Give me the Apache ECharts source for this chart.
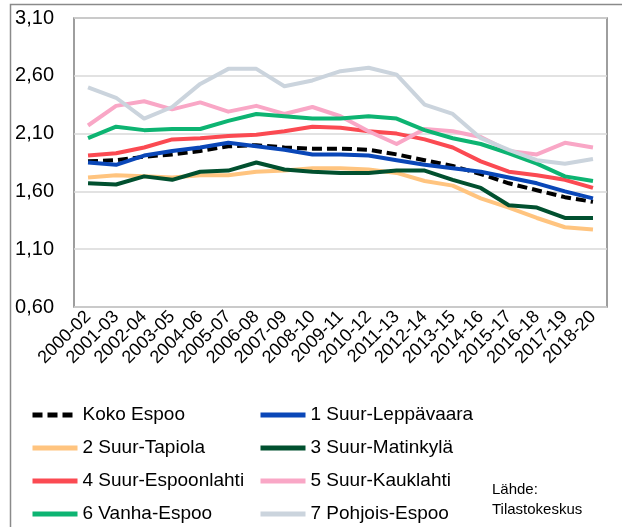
<!DOCTYPE html>
<html>
<head>
<meta charset="utf-8">
<script src="https://cdn.jsdelivr.net/npm/echarts@6/dist/echarts.min.js"></script>
<style>
  html, body { margin: 0; padding: 0; background: #fff; }
  #chart { width: 622px; height: 527px; }
</style>
</head>
<body>
<div id="chart"></div>
<script>
// Kausien luokat (3 vuoden jaksot)
const categories = ['2000-02','2001-03','2002-04','2003-05','2004-06','2005-07','2006-08','2007-09','2008-10','2009-11',
    '2010-12','2011-13','2012-14','2013-15','2014-16','2015-17','2016-18','2017-19','2018-20'];

const kokoEspoo      = [1.86,1.87,1.90,1.92,1.95,1.99,2.00,1.98,1.97,1.97,1.96,1.92,1.87,1.82,1.75,1.67,1.61,1.55,1.51];
const suurLeppavaara = [1.85,1.83,1.91,1.95,1.98,2.02,1.99,1.96,1.92,1.92,1.91,1.87,1.83,1.80,1.77,1.72,1.67,1.60,1.54];
const suurTapiola    = [1.72,1.74,1.73,1.72,1.74,1.74,1.77,1.78,1.80,1.80,1.79,1.76,1.69,1.65,1.54,1.46,1.37,1.29,1.27];
const suurMatinkyla  = [1.67,1.66,1.73,1.70,1.77,1.78,1.85,1.79,1.77,1.76,1.76,1.78,1.78,1.70,1.63,1.48,1.46,1.37,1.37];
const suurEspoonlahti= [1.91,1.93,1.98,2.05,2.06,2.08,2.09,2.12,2.16,2.15,2.12,2.10,2.05,1.98,1.86,1.77,1.74,1.70,1.63];
const suurKauklahti  = [2.17,2.34,2.38,2.31,2.37,2.29,2.34,2.27,2.33,2.25,2.12,2.01,2.14,2.12,2.07,1.95,1.92,2.02,1.98];
const vanhaEspoo     = [2.06,2.16,2.13,2.14,2.14,2.21,2.27,2.25,2.23,2.23,2.25,2.23,2.13,2.06,2.01,1.93,1.84,1.73,1.69];
const pohjoisEspoo   = [2.50,2.41,2.23,2.33,2.53,2.66,2.66,2.51,2.56,2.64,2.67,2.61,2.35,2.27,2.06,1.96,1.87,1.84,1.88];

const yMin = 0.6, yMax = 3.1, yStep = 0.5;

const FONT = '"Liberation Sans", Arial, sans-serif';

const seriesDefs = [
    { name: 'Koko Espoo',          data: kokoEspoo,       color: '#000000', dashed: true },
    { name: '1 Suur-Leppävaara',   data: suurLeppavaara,  color: '#0a47b8' },
    { name: '2 Suur-Tapiola',      data: suurTapiola,     color: '#ffc47f' },
    { name: '3 Suur-Matinkylä',    data: suurMatinkyla,   color: '#01502f' },
    { name: '4 Suur-Espoonlahti',  data: suurEspoonlahti, color: '#fb4a52' },
    { name: '5 Suur-Kauklahti',    data: suurKauklahti,   color: '#f9a7c6' },
    { name: '6 Vanha-Espoo',       data: vanhaEspoo,      color: '#0db472' },
    { name: '7 Pohjois-Espoo',     data: pohjoisEspoo,    color: '#cbd4dd' }
];

const chart = echarts.init(document.getElementById('chart'), null, { renderer: 'canvas' });

// legendan symbolit piiloon, vain viiva näkyy
const legendBase = {
    orient: 'vertical',
    top: 404,
    height: 123,
    padding: 0,
    itemWidth: 45,
    itemHeight: 14,
    itemGap: 11,
    itemStyle: { opacity: 0 },
    lineStyle: { width: 5 },
    textStyle: { fontFamily: FONT, fontSize: 19, lineHeight: 22, color: '#000' }
};

chart.setOption({
    backgroundColor: '#fff',
    animation: false,
    grid: { left: 74, right: 15, top: 18, bottom: 220, show: true, borderColor: '#7f7f7f', borderWidth: 1.5 },
    legend: [
        Object.assign({}, legendBase, { left: 30, data: ['Koko Espoo', '2 Suur-Tapiola', '4 Suur-Espoonlahti', '6 Vanha-Espoo'] }),
        Object.assign({}, legendBase, { left: 258, data: ['1 Suur-Leppävaara', '3 Suur-Matinkylä', '5 Suur-Kauklahti', '7 Pohjois-Espoo'] })
    ],
    xAxis: {
        type: 'category',
        data: categories,
        boundaryGap: true,
        axisLine: { show: false },
        axisTick: { show: false },
        axisLabel: { interval: 0, rotate: 45, margin: 7, fontFamily: FONT, fontSize: 18, color: '#000' }
    },
    yAxis: {
        type: 'value',
        min: yMin, max: yMax, interval: yStep,
        axisLine: { show: false },
        axisTick: { show: false },
        splitLine: { lineStyle: { color: '#d9d9d9', width: 1.5 } },
        axisLabel: {
            margin: 20, fontFamily: FONT, fontSize: 20, color: '#000',
            formatter: v => v.toFixed(2).replace('.', ',')
        }
    },
    graphic: [
        { type: 'rect', shape: { x: 10.5, y: 4.5, width: 700, height: 700 }, style: { fill: 'none', stroke: '#8a8a8a', lineWidth: 1.5 }, silent: true },
        { type: 'text', left: 492, top: 480, style: { text: 'Lähde:\nTilastokeskus', fontFamily: FONT, fontSize: 15, lineHeight: 20, fill: '#000' } }
    ],
    series: seriesDefs.map(s => ({
        name: s.name,
        type: 'line',
        data: s.data,
        symbol: 'none',
        showSymbol: false,
        lineStyle: { color: s.color, width: 4, type: s.dashed ? [10, 5] : 'solid', cap: 'butt', join: 'round' },
        itemStyle: { color: s.color }
    }))
});
</script>
</body>
</html>
